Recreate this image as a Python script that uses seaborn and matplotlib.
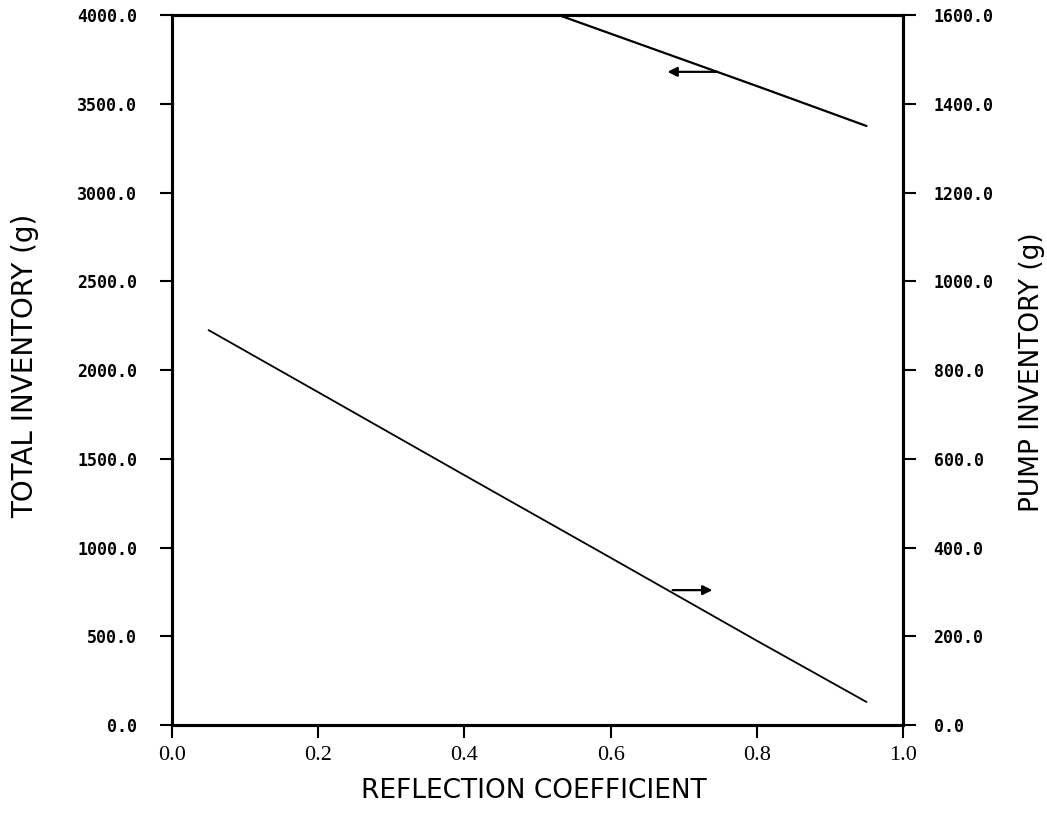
import matplotlib
matplotlib.use("Agg")
import matplotlib.pyplot as plt
import seaborn as sns

# Values
reflection = [0.05, 0.2, 0.4, 0.6, 0.8, 0.95]
total_inventory = [4705, 4485, 4190, 3895, 3600, 3375]   # left axis, g
pump_inventory = [890, 750, 563, 377, 190, 52]          # right axis, g

x_ticks = [0.0, 0.2, 0.4, 0.6, 0.8, 1.0]
left_ticks = [0, 500, 1000, 1500, 2000, 2500, 3000, 3500, 4000]
right_ticks = [0, 200, 400, 600, 800, 1000, 1200, 1400, 1600]

sns.set_style("ticks")

fig = plt.figure(figsize=(10.47, 8.13), dpi=100)
ax = fig.add_axes([0.1643, 0.1082, 0.6982, 0.8733])
ax2 = ax.twinx()

sns.lineplot(x=reflection, y=total_inventory, ax=ax, color="black", linewidth=1.6)
sns.lineplot(x=reflection, y=pump_inventory, ax=ax2, color="black", linewidth=1.3)

ax.set_xlim(0.0, 1.0)
ax.set_ylim(0, 4000)
ax2.set_ylim(0, 1600)

ax.set_xticks(x_ticks)
ax.set_xticklabels([f"{v:.1f}" for v in x_ticks], family="Liberation Serif", fontsize=16)
ax.set_yticks(left_ticks)
ax.set_yticklabels([f"{v:.1f}" for v in left_ticks], family="DejaVu Sans Mono",
                   fontsize=12, fontweight="bold")
ax2.set_yticks(right_ticks)
ax2.set_yticklabels([f"{v:.1f}" for v in right_ticks], family="DejaVu Sans Mono",
                    fontsize=12, fontweight="bold")

for a in (ax, ax2):
    for s in a.spines.values():
        s.set_linewidth(2.2)
        s.set_color("black")
    a.tick_params(direction="out", length=9, width=1.5, colors="black")
ax.tick_params(axis="y", pad=16)
ax.tick_params(axis="x", pad=6)
ax2.tick_params(axis="y", pad=13)

ax.set_xlabel("REFLECTION COEFFICIENT", fontsize=19, color="black")
ax.xaxis.set_label_coords(0.495, -0.075)
ax.set_ylabel("TOTAL INVENTORY (g)", fontsize=20, color="black")
ax.yaxis.set_label_coords(-0.182, 0.506)
ax2.set_ylabel("PUMP INVENTORY (g)", fontsize=19, color="black")
ax2.yaxis.set_label_coords(1.158, 0.497)

# Arrows showing which axis each curve belongs to
arrow = dict(arrowstyle="-|>", color="black", lw=1.6, mutation_scale=14)
ax.annotate("", xy=(0.674, 3680), xytext=(0.75, 3680), arrowprops=arrow)
ax2.annotate("", xy=(0.743, 304), xytext=(0.681, 304), arrowprops=arrow)

fig.savefig("out.png", dpi=100)
